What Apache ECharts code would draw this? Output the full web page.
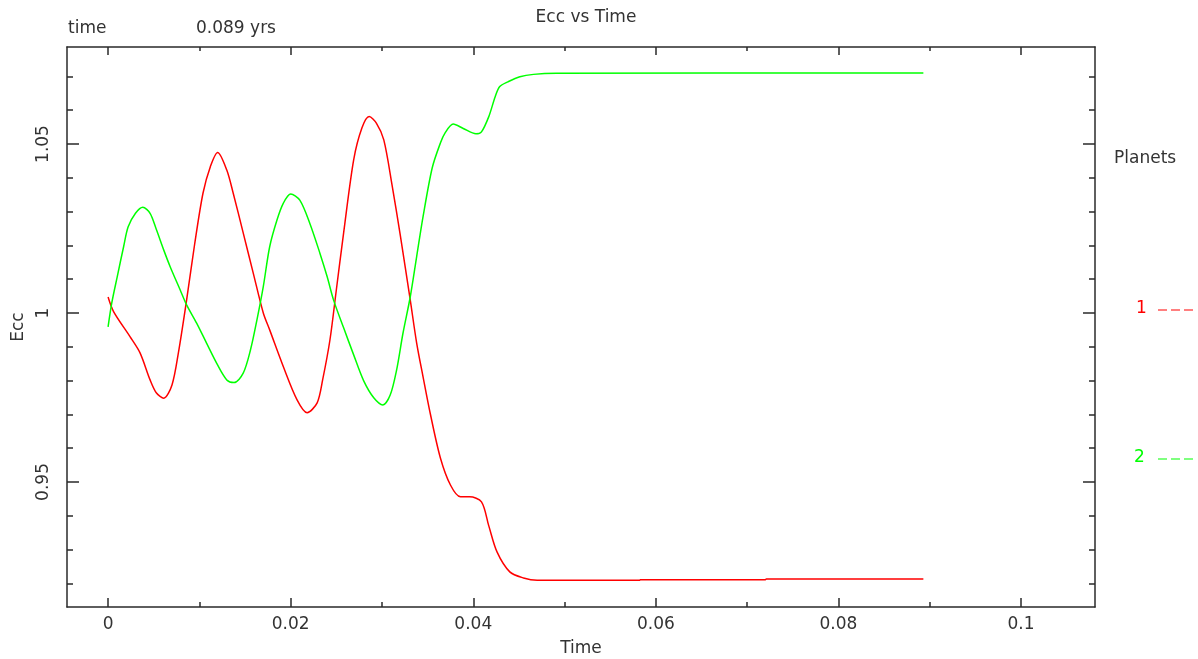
<!DOCTYPE html>
<html>
<head>
<meta charset="utf-8">
<script src="https://cdn.jsdelivr.net/npm/echarts@6/dist/echarts.min.js"></script>
<style>html,body{margin:0;padding:0;background:#fff}#chart{width:1198px;height:659px}</style>
</head>
<body>
<div id="chart"></div>
<script>
// ---- data (time in yrs, eccentricity) ----
var planet1 = [
  [0.0000,1.0047],[0.0006,1.0004],[0.0024,0.9930],[0.0035,0.9882],[0.0046,0.9802],
  [0.0053,0.9763],[0.0061,0.9748],[0.0070,0.9787],[0.0077,0.9882],[0.0086,1.0038],
  [0.0095,1.0207],[0.0104,1.0355],[0.0112,1.0433],[0.0120,1.0475],[0.0130,1.0423],
  [0.0137,1.0355],[0.0148,1.0237],[0.0159,1.0118],[0.0170,1.0000],[0.0177,0.9950],
  [0.0192,0.9841],[0.0207,0.9743],[0.0218,0.9705],[0.0229,0.9734],[0.0235,0.9802],
  [0.0243,0.9920],[0.0250,1.0068],[0.0258,1.0237],[0.0269,1.0453],[0.0278,1.0547],
  [0.0286,1.0581],[0.0294,1.0561],[0.0302,1.0512],[0.0311,1.0379],[0.0320,1.0231],
  [0.0331,1.0038],[0.0338,0.9911],[0.0345,0.9811],[0.0353,0.9701],[0.0364,0.9571],
  [0.0375,0.9491],[0.0386,0.9456],[0.0396,0.9456],[0.0409,0.9441],[0.0417,0.9370],
  [0.0426,0.9293],[0.0440,0.9234],[0.0455,0.9216],[0.0470,0.9209],[0.0582,0.9209],
  [0.0583,0.9211],[0.0720,0.9211],[0.0721,0.9213],[0.0893,0.9213]
];
var planet2 = [
  [0.0000,0.9959],[0.0004,1.0029],[0.0010,1.0107],[0.0017,1.0196],[0.0022,1.0255],
  [0.0030,1.0295],[0.0038,1.0313],[0.0046,1.0295],[0.0053,1.0246],[0.0061,1.0186],
  [0.0068,1.0137],[0.0079,1.0068],[0.0086,1.0024],[0.0097,0.9970],[0.0108,0.9910],
  [0.0119,0.9851],[0.0130,0.9802],[0.0138,0.9794],[0.0148,0.9822],[0.0156,0.9891],
  [0.0163,0.9979],[0.0170,1.0078],[0.0177,1.0196],[0.0185,1.0275],[0.0192,1.0325],
  [0.0200,1.0352],[0.0210,1.0334],[0.0221,1.0265],[0.0232,1.0177],[0.0240,1.0107],
  [0.0247,1.0038],[0.0258,0.9956],[0.0269,0.9876],[0.0280,0.9799],[0.0291,0.9749],
  [0.0301,0.9728],[0.0309,0.9757],[0.0316,0.9831],[0.0323,0.9940],[0.0331,1.0048],
  [0.0338,1.0167],[0.0345,1.0285],[0.0355,1.0429],[0.0364,1.0503],[0.0369,1.0532],
  [0.0378,1.0559],[0.0389,1.0546],[0.0403,1.0530],[0.0409,1.0536],[0.0417,1.0581],
  [0.0424,1.0640],[0.0429,1.0670],[0.0438,1.0684],[0.0451,1.0699],[0.0466,1.0706],
  [0.0491,1.0709],[0.0893,1.0710]
];
var seriesNames = ['1', '2'];
var seriesColors = ['#ff0000', '#00ff00'];
var xTicks = [0, 0.02, 0.04, 0.06, 0.08, 0.1];
var xMinorTicks = [0.01, 0.03, 0.05, 0.07, 0.09];
var yTicks = [0.95, 1, 1.05];
var yMinorTicks = [0.92, 0.93, 0.94, 0.96, 0.97, 0.98, 0.99, 1.01, 1.02, 1.03, 1.04, 1.06, 1.07];
var xRange = [-0.0045, 0.1081];
var yRange = [0.913, 1.0787];

var FONT = 'DejaVu Sans';
var FS = 17;
var TXT = '#333';
var AX = '#2a2a2a';

function xAx(pos, ticks, len, showLine, labels) {
  return {
    type: 'value', position: pos, min: xRange[0], max: xRange[1],
    splitLine: {show: false},
    axisLine: {show: showLine, onZero: false, lineStyle: {color: AX, width: 1.5}},
    axisTick: {show: true, inside: true, length: len, customValues: ticks, lineStyle: {color: AX, width: 1.5}},
    axisLabel: labels ? {show: true, customValues: ticks, margin: 9, color: TXT, fontFamily: FONT, fontSize: FS,
      formatter: function (v) { return String(+v.toFixed(4)); }} : {show: false}
  };
}
function yAx(pos, ticks, len, showLine, labels) {
  return {
    type: 'value', position: pos, min: yRange[0], max: yRange[1],
    splitLine: {show: false},
    axisLine: {show: showLine, onZero: false, lineStyle: {color: AX, width: 1.5}},
    axisTick: {show: true, inside: true, length: len, customValues: ticks, lineStyle: {color: AX, width: 1.5}},
    axisLabel: labels ? {show: true, customValues: ticks, rotate: 90, margin: 15, color: TXT, fontFamily: FONT, fontSize: FS,
      formatter: function (v) { return String(+v.toFixed(4)); }} : {show: false}
  };
}

var xAxes = [
  xAx('bottom', xTicks, 9, true, true),
  xAx('bottom', xMinorTicks, 5, false, false),
  xAx('top', xTicks, 8, true, false),
  xAx('top', xMinorTicks, 4, false, false)
];
xAxes[0].name = 'Time';
xAxes[0].nameLocation = 'middle';
xAxes[0].nameGap = 33;
xAxes[0].nameTextStyle = {color: TXT, fontFamily: FONT, fontSize: FS};

var yAxes = [
  yAx('left', yTicks, 12, true, true),
  yAx('left', yMinorTicks, 6, false, false),
  yAx('right', yTicks, 12, true, false),
  yAx('right', yMinorTicks, 6, false, false)
];
yAxes[0].name = 'Ecc';
yAxes[0].nameLocation = 'middle';
yAxes[0].nameRotate = 90;
yAxes[0].nameGap = 40;
yAxes[0].nameTextStyle = {color: TXT, fontFamily: FONT, fontSize: FS};

var chart = echarts.init(document.getElementById('chart'), null, {renderer: 'canvas'});
chart.setOption({
  animation: false,
  backgroundColor: '#ffffff',
  title: {
    text: 'Ecc vs Time', left: 581, top: 4, textAlign: 'center',
    textStyle: {color: TXT, fontFamily: FONT, fontSize: FS, fontWeight: 'normal'}
  },
  grid: {left: 67, right: 103, top: 47, bottom: 52, containLabel: false, outerBoundsMode: 'none'},
  xAxis: xAxes,
  yAxis: yAxes,
  series: [planet1, planet2].map(function (d, i) {
    return {
      name: seriesNames[i], type: 'line', data: d, xAxisIndex: 0, yAxisIndex: 0,
      showSymbol: false, smooth: 0.3,
      lineStyle: {color: seriesColors[i], width: 1.5}
    };
  }),
  graphic: [
    {type: 'text', left: 68, top: 20, style: {text: 'time', fill: TXT, font: FS + 'px "DejaVu Sans"'}},
    {type: 'text', left: 196, top: 20, style: {text: '0.089 yrs', fill: TXT, font: FS + 'px "DejaVu Sans"'}},
    {type: 'text', left: 1114, top: 150, style: {text: 'Planets', fill: TXT, font: FS + 'px "DejaVu Sans"'}},
    {type: 'text', left: 1136, top: 300, style: {text: seriesNames[0], fill: seriesColors[0], font: FS + 'px "DejaVu Sans"'}},
    {type: 'line', shape: {x1: 1158, y1: 310, x2: 1196, y2: 310}, style: {stroke: seriesColors[0], lineWidth: 1.2, lineDash: [9, 4]}},
    {type: 'text', left: 1134, top: 449, style: {text: seriesNames[1], fill: seriesColors[1], font: FS + 'px "DejaVu Sans"'}},
    {type: 'line', shape: {x1: 1158, y1: 459, x2: 1196, y2: 459}, style: {stroke: seriesColors[1], lineWidth: 1.2, lineDash: [9, 4]}}
  ]
});
</script>
</body>
</html>
